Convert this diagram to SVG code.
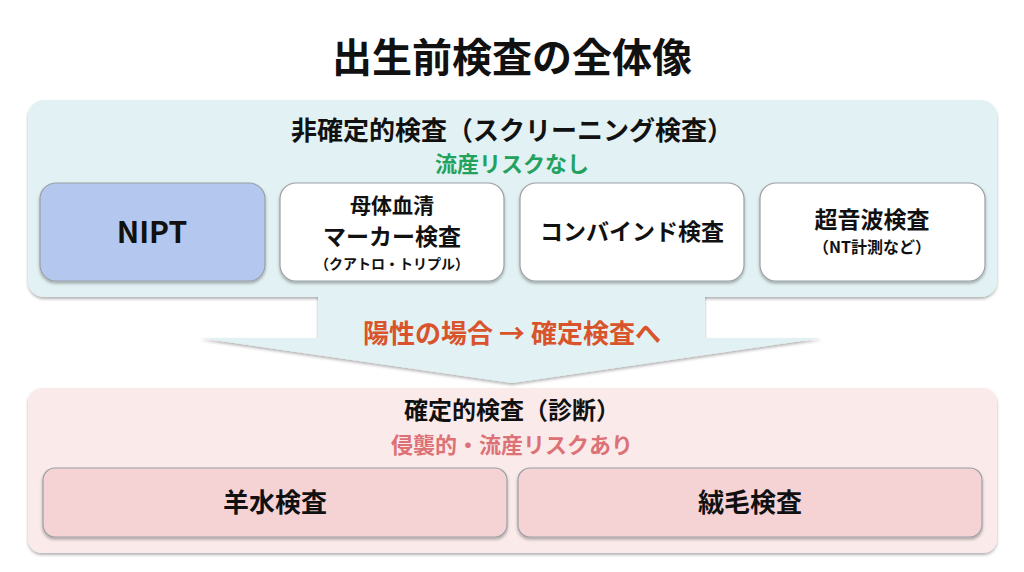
<svg xmlns="http://www.w3.org/2000/svg" width="1024" height="572" viewBox="0 0 1024 572">
<defs>
<style>
text{font-family:"Noto Sans CJK JP","Noto Sans",sans-serif;font-weight:bold;text-anchor:middle;fill:#111}
.box{stroke:#9aa0a6;stroke-width:1.2}
</style>
<filter id="sh" x="-5%" y="-5%" width="110%" height="120%"><feDropShadow dx="0" dy="2" stdDeviation="1.5" flood-color="#000" flood-opacity="0.3"/></filter>
</defs>
<rect width="1024" height="572" fill="#fff"/>
<text x="512" y="72" font-size="40">出生前検査の全体像</text>
<g id="connectors">
<path d="M318,290 H705 V338 H822 L512,383 L200,338 H318 Z" fill="#e2f1f3" filter="url(#sh)"/>
</g>
<g id="top-panel">
<rect x="28" y="100" width="969" height="197" rx="16" fill="#e2f1f3" filter="url(#sh)"/>
<rect x="318" y="290" width="387" height="50" fill="#e2f1f3"/>
<text x="512" y="140" font-size="26">非確定的検査（スクリーニング検査）</text>
<text x="512" y="172" font-size="22" style="fill:#23a15e">流産リスクなし</text>
</g>
<text x="512" y="343" font-size="26" style="fill:#d9542b">陽性の場合 → 確定検査へ</text>
<g id="nipt"><rect class="box" x="40" y="183" width="225" height="98" rx="16" fill="#b4c7ee" filter="url(#sh)"/><text x="152" y="243" font-size="30">NIPT</text></g>
<g id="serum"><rect class="box" x="280" y="183" width="224" height="98" rx="16" fill="#fff" filter="url(#sh)"/><text x="392" y="213" font-size="21">母体血清</text><text x="392" y="245" font-size="23">マーカー検査</text><text x="392" y="269" font-size="14">（クアトロ・トリプル）</text></g>
<g id="combined"><rect class="box" x="520" y="183" width="224" height="98" rx="16" fill="#fff" filter="url(#sh)"/><text x="632" y="240" font-size="23">コンバインド検査</text></g>
<g id="us"><rect class="box" x="760" y="183" width="225" height="98" rx="16" fill="#fff" filter="url(#sh)"/><text x="872" y="228" font-size="23">超音波検査</text><text x="872" y="253" font-size="16">（NT計測など）</text></g>
<g id="bottom-panel">
<rect x="28" y="388" width="969" height="165" rx="14" fill="#fbeaea" filter="url(#sh)"/>
<text x="512" y="419" font-size="24">確定的検査（診断）</text>
<text x="512" y="453" font-size="22" style="fill:#dc7176">侵襲的・流産リスクあり</text>
</g>
<g id="amnio"><rect class="box" x="43" y="468" width="464" height="69" rx="12" fill="#f5d3d5" filter="url(#sh)"/><text x="275" y="512" font-size="26">羊水検査</text></g>
<g id="cvs"><rect class="box" x="518" y="468" width="464" height="69" rx="12" fill="#f5d3d5" filter="url(#sh)"/><text x="750" y="512" font-size="26">絨毛検査</text></g>
</svg>
